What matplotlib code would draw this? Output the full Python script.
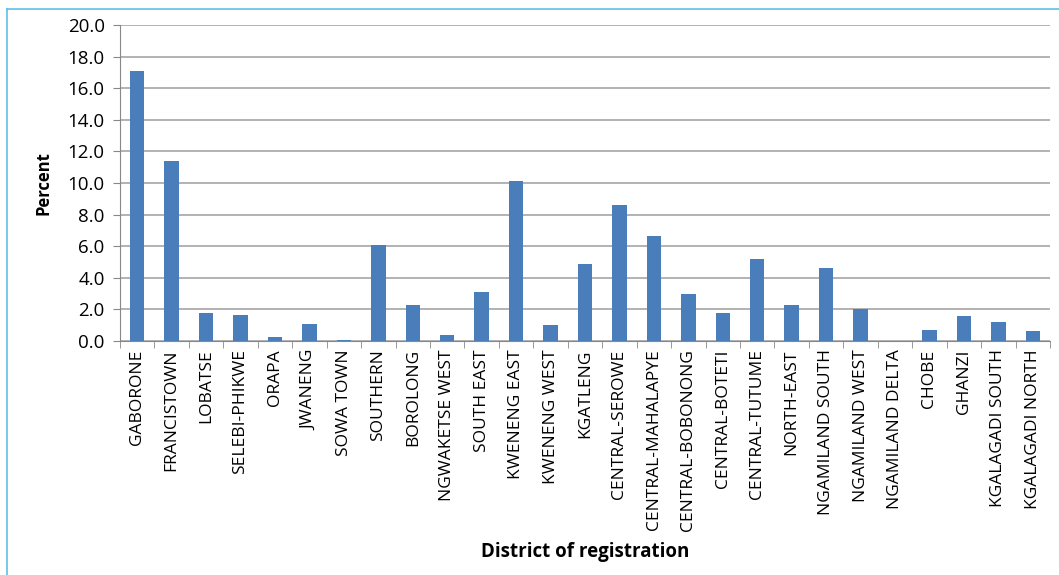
import numpy as np
import matplotlib.pyplot as plt
from matplotlib.lines import Line2D

districts = [
    "GABORONE", "FRANCISTOWN", "LOBATSE", "SELEBI-PHIKWE", "ORAPA", "JWANENG",
    "SOWA TOWN", "SOUTHERN", "BOROLONG", "NGWAKETSE WEST", "SOUTH EAST",
    "KWENENG EAST", "KWENENG WEST", "KGATLENG", "CENTRAL-SEROWE",
    "CENTRAL-MAHALAPYE", "CENTRAL-BOBONONG", "CENTRAL-BOTETI", "CENTRAL-TUTUME",
    "NORTH-EAST", "NGAMILAND SOUTH", "NGAMILAND WEST", "NGAMILAND DELTA",
    "CHOBE", "GHANZI", "KGALAGADI SOUTH", "KGALAGADI NORTH",
]
percent = [
    17.1, 11.4, 1.8, 1.65, 0.23, 1.07, 0.05, 6.1, 2.3, 0.35, 3.1,
    10.1, 1.0, 4.9, 8.6, 6.65, 2.95, 1.8, 5.2,
    2.3, 4.65, 2.0, 0.03, 0.7, 1.55, 1.2, 0.6,
]
yticks = np.arange(0, 20.1, 2.0)

plt.rcParams["font.family"] = ["Open Sans", "DejaVu Sans"]

fig = plt.figure(figsize=(10.59, 5.75), dpi=100)
ax = fig.add_axes([0.1133, 0.407, 0.8782, 0.5495])

x = np.arange(len(districts))
ax.bar(x, percent, width=0.42, color="#4a7ebb", zorder=3)

ax.set_xlim(-0.5, len(districts) - 0.5)
ax.set_ylim(0, 20)
ax.set_yticks(yticks)
ax.set_yticklabels([f"{v:.1f}" for v in yticks], fontsize=13.5)
ax.yaxis.grid(True, color="#a6a6a6", linewidth=1.2, zorder=0)

ax.set_xticks(x)
ax.set_xticklabels(districts, rotation=90, fontsize=12.5)
ax.tick_params(axis="x", length=0, pad=6)
ax.set_xticks(np.arange(-0.5, len(districts)), minor=True)
ax.tick_params(axis="x", which="minor", length=5, color="#888888")
ax.tick_params(axis="y", length=5, color="#888888", pad=6)

for s in ["top", "right"]:
    ax.spines[s].set_visible(False)
for s in ["left", "bottom"]:
    ax.spines[s].set_color("#888888")

ax.set_ylabel("Percent", fontsize=12, fontweight="bold", labelpad=11)
ax.set_xlabel("District of registration", fontsize=13.5, fontweight="bold", labelpad=8)

# light blue frame around the chart
fig.add_artist(Line2D([7 / 1059, 7 / 1059], [0, 1 - 9 / 575], color="#5bc0eb", linewidth=1.2))
fig.add_artist(Line2D([7 / 1059, 1], [1 - 9 / 575, 1 - 9 / 575], color="#5bc0eb", linewidth=1.2))

fig.savefig("out.png", dpi=100)
